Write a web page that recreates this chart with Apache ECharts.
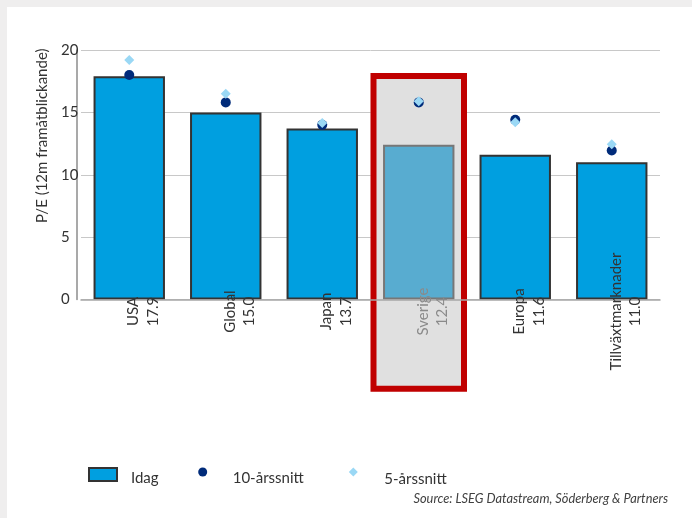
<!DOCTYPE html>
<html><head><meta charset="utf-8">
<script src="https://cdn.jsdelivr.net/npm/echarts@6/dist/echarts.min.js"></script>
<style>
html,body{margin:0;padding:0;background:#efeeee;width:692px;height:518px;overflow:hidden}
#panel{position:absolute;left:7px;top:7px;right:0;bottom:0;background:#fff}
#chart{position:absolute;left:0;top:0;width:692px;height:518px}
</style></head><body><div id="panel"></div><div id="chart"></div>
<script>
// ---- data ----
const categories = ['USA', 'Global', 'Japan', 'Sverige', 'Europa', 'Tillväxtmarknader'];
const idag = [17.9, 15.0, 13.7, 12.4, 11.6, 11.0];
const avg10 = [18.0, 15.8, 14.0, 15.8, 14.4, 11.95];
const avg5 = [19.2, 16.5, 14.15, 15.9, 14.2, 12.45];
const seriesNames = ['Idag', '10-årssnitt', '5-årssnitt'];
const yAxisName = 'P/E (12m framåtblickande)';
const sourceText = 'Source: LSEG Datastream, Söderberg & Partners';
const highlightCategory = 'Sverige';
const highlightTopValue = 18.15;
const highlightBottomValue = -7.4;

const FONT = 'Lato';
const hiIdx = categories.indexOf(highlightCategory);

function legendText(h) {
  return {
    fontSize: 15, color: '#333', fontFamily: FONT,
    rich: {
      s: { fontSize: 1, lineHeight: h },
      t: { fontSize: 15, lineHeight: 18, color: '#333', fontFamily: FONT }
    }
  };
}
const legendFmt = name => '{s| }\n{t|' + name + '}';

const chart = echarts.init(document.getElementById('chart'));
const option = {
  animation: false,
  title: {
    text: sourceText, right: 24, top: 492, padding: 0,
    textStyle: { fontSize: 12.8, fontStyle: 'italic', fontWeight: 'normal', color: '#404040', fontFamily: FONT }
  },
  legend: [
    { data: [{ name: seriesNames[0], icon: 'rect', itemStyle: { color: '#009fe0', borderColor: '#333', borderWidth: 2 } }],
      left: 88, top: 465, padding: 0, itemWidth: 28, itemHeight: 13, itemGap: 0, selectedMode: false,
      formatter: legendFmt, textStyle: Object.assign(legendText(7), { padding: [0, 0, 0, 9] }) },
    { data: [{ name: seriesNames[1], icon: 'circle' }],
      left: 198.2, top: 462.5, padding: 0, itemWidth: 9, itemHeight: 9, selectedMode: false,
      formatter: legendFmt, textStyle: Object.assign(legendText(12), { padding: [0, 0, 0, 20.5] }) },
    { data: [{ name: seriesNames[2], icon: 'diamond' }],
      left: 348.8, top: 462.5, padding: 0, itemWidth: 9, itemHeight: 9, selectedMode: false,
      formatter: legendFmt, textStyle: Object.assign(legendText(14), { padding: [0, 0, 0, 21.5] }) }
  ],
  grid: { left: 81, right: 32, top: 50, bottom: 218.5 },
  xAxis: {
    type: 'category', data: categories, z: 10,
    axisLine: { lineStyle: { color: '#a6a6a6', width: 1.5 } },
    axisTick: { show: false },
    axisLabel: {
      interval: 0, rotate: 90, align: 'center', verticalAlign: 'middle', margin: 12,
      fontSize: 15, fontFamily: FONT,
      formatter: (v, i) => {
        const st = v === highlightCategory ? 'g' : 'a';
        return '{s| }\n{' + st + '|' + v + '}\n{' + st + '|' + idag[i].toFixed(1) + '}';
      },
      rich: {
        s: { fontSize: 1, lineHeight: 28 },
        a: { fontSize: 15, lineHeight: 19.5, color: '#333', fontFamily: FONT },
        g: { fontSize: 15, lineHeight: 19.5, color: '#8a8a8a', fontFamily: FONT }
      }
    }
  },
  yAxis: {
    type: 'value', min: 0, max: 20, interval: 5, offset: 4,
    name: yAxisName, nameLocation: 'middle', nameGap: 13,
    nameTextStyle: { fontSize: 15, color: '#333', fontFamily: FONT, padding: [0, 0, 0, 78] },
    axisLine: { show: true, lineStyle: { color: '#8c8c8c', width: 1.5 } },
    axisTick: { show: false },
    axisLabel: { align: 'left', margin: 16, fontSize: 15, color: '#333', fontFamily: FONT },
    splitLine: { lineStyle: { color: '#c8c8c8', width: 1 } }
  },
  series: [
    { name: seriesNames[0], type: 'bar', barWidth: '74%',
      itemStyle: { color: '#009fe0', borderColor: '#333', borderWidth: 2 },
      data: idag.map((v, i) => i === hiIdx
        ? { value: v, itemStyle: { color: '#58acd0', borderColor: '#777', borderWidth: 2 } }
        : v) },
    { name: seriesNames[1], type: 'scatter', symbol: 'circle', symbolSize: 10,
      itemStyle: { color: '#002b7a', opacity: 1 }, data: avg10 },
    { name: seriesNames[2], type: 'scatter', symbol: 'diamond', symbolSize: 10,
      itemStyle: { color: '#9ad8f5', opacity: 1 }, data: avg5 }
  ]
};
chart.setOption(option);

// highlight box around the Swedish category, derived from the axes
const cx = chart.convertToPixel({ xAxisIndex: 0 }, hiIdx);
const cxNext = chart.convertToPixel({ xAxisIndex: 0 }, hiIdx + 1);
const band = cxNext - cx;
const yTop = chart.convertToPixel({ yAxisIndex: 0 }, highlightTopValue);
const yBot = chart.convertToPixel({ yAxisIndex: 0 }, highlightBottomValue);
const sw = 6;
chart.setOption({
  graphic: [{
    type: 'rect', z: 1, silent: true,
    shape: { x: cx - band / 2 + sw / 2, y: yTop + sw / 2, width: band - sw, height: yBot - yTop - sw },
    style: { fill: '#e0e0e0', stroke: '#c00000', lineWidth: sw }
  }]
});
</script></body></html>
